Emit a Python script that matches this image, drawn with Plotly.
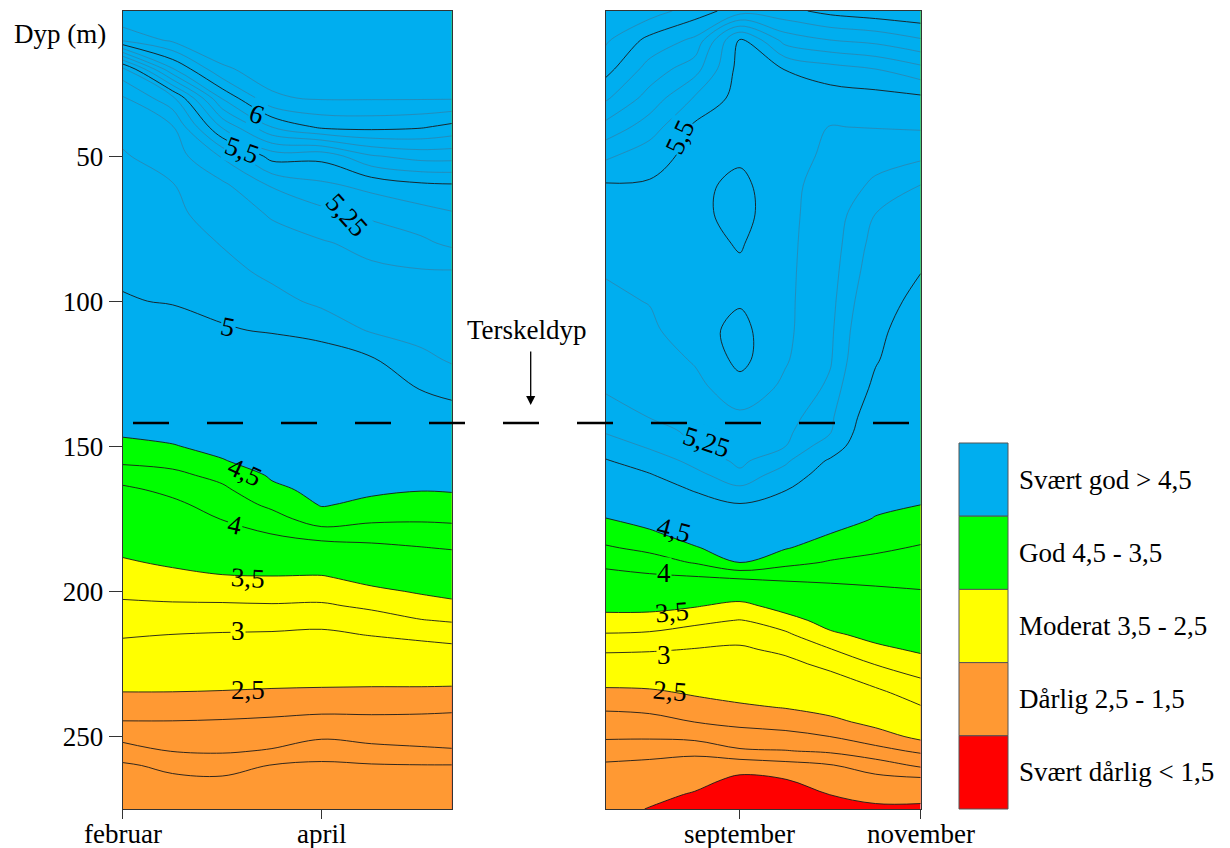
import numpy as np
import plotly.graph_objects as go

# ---------------- data ----------------
depth_m = [0, 10, 20, 30, 40, 50, 60, 70, 80, 90, 100, 110, 120, 130, 140, 145, 150, 155,
           160, 165, 170, 175, 180, 185, 190, 195, 200, 205, 210, 215, 220, 225, 230, 235,
           240, 245, 250, 255, 260, 265, 270, 275]

# time position in months (2 = februar, 4 = april, 9 = september, 11 = november)
left_month = [2.0, 2.5, 3.0, 3.5, 4.0, 4.5, 5.0, 5.31]
right_month = [7.5, 8.0, 8.5, 9.0, 9.5, 10.0, 10.5, 11.0]

# oxygen (ml/l) profiles, one list per time column, top to bottom
o2_left_1 = [6.30, 6.12, 5.37, 5.19, 5.13, 5.09, 5.07, 5.05, 5.03, 5.02, 4.99, 4.87, 4.78, 4.68, 4.58, 4.53, 4.45, 4.30, 4.11, 3.95, 3.85, 3.75, 3.66, 3.56, 3.47, 3.38, 3.30, 3.21, 3.12, 3.03, 2.90, 2.77, 2.63, 2.49, 2.37, 2.24, 2.09, 1.87, 1.72, 1.68, 1.64, 1.60]
o2_left_2 = [6.30, 6.22, 5.89, 5.37, 5.19, 5.15, 5.095, 5.08, 5.05, 5.03, 5.01, 4.93, 4.82, 4.71, 4.61, 4.55, 4.49, 4.33, 4.19, 4.06, 3.95, 3.84, 3.74, 3.64, 3.54, 3.43, 3.33, 3.22, 3.11, 2.995, 2.87, 2.74, 2.62, 2.49, 2.37, 2.24, 2.13, 2.01, 1.80, 1.71, 1.67, 1.62]
o2_left_3 = [6.30, 6.25, 6.19, 5.91, 5.61, 5.31, 5.18, 5.14, 5.105, 5.07, 5.03, 4.99, 4.88, 4.77, 4.66, 4.61, 4.55, 4.49, 4.32, 4.20, 4.10, 4.01, 3.88, 3.74, 3.61, 3.48, 3.35, 3.22, 3.10, 2.98, 2.85, 2.73, 2.60, 2.48, 2.35, 2.23, 2.13, 2.03, 1.83, 1.72, 1.68, 1.63]
o2_left_4 = [6.30, 6.27, 6.23, 6.19, 5.90, 5.54, 5.31, 5.21, 5.16, 5.12, 5.07, 5.01, 4.92, 4.82, 4.72, 4.68, 4.63, 4.58, 4.53, 4.45, 4.31, 4.15, 4.01, 3.83, 3.66, 3.49, 3.36, 3.23, 3.10, 2.97, 2.84, 2.71, 2.59, 2.46, 2.33, 2.21, 2.10, 1.98, 1.74, 1.70, 1.66, 1.62]
o2_left_5 = [6.30, 6.27, 6.24, 6.21, 6.02, 5.53, 5.38, 5.27, 5.19, 5.16, 5.12, 5.04, 4.94, 4.86, 4.77, 4.73, 4.69, 4.65, 4.61, 4.56, 4.52, 4.39, 4.13, 3.88, 3.68, 3.48, 3.35, 3.22, 3.08, 2.95, 2.82, 2.70, 2.58, 2.45, 2.31, 2.18, 2.04, 1.83, 1.72, 1.68, 1.64, 1.60]
o2_left_6 = [6.30, 6.27, 6.24, 6.21, 6.03, 5.69, 5.43, 5.32, 5.23, 5.18, 5.14, 5.11, 4.99, 4.89, 4.79, 4.74, 4.69, 4.64, 4.59, 4.54, 4.45, 4.30, 4.12, 3.94, 3.77, 3.60, 3.44, 3.29, 3.15, 3.01, 2.86, 2.72, 2.58, 2.44, 2.31, 2.19, 2.08, 1.92, 1.73, 1.69, 1.64, 1.60]
o2_left_7 = [6.30, 6.27, 6.24, 6.21, 6.01, 5.74, 5.48, 5.36, 5.28, 5.19, 5.16, 5.13, 5.08, 5.01, 4.87, 4.80, 4.73, 4.66, 4.58, 4.51, 4.40, 4.28, 4.14, 3.99, 3.83, 3.68, 3.53, 3.38, 3.24, 3.07, 2.90, 2.74, 2.58, 2.44, 2.30, 2.19, 2.09, 1.96, 1.74, 1.69, 1.65, 1.60]
o2_left_8 = [6.30, 6.27, 6.24, 6.21, 5.97, 5.74, 5.49, 5.39, 5.32, 5.19, 5.17, 5.14, 5.11, 5.05, 4.93, 4.85, 4.77, 4.68, 4.60, 4.52, 4.41, 4.29, 4.16, 4.02, 3.87, 3.73, 3.58, 3.43, 3.27, 3.11, 2.93, 2.76, 2.58, 2.43, 2.29, 2.18, 2.09, 1.98, 1.74, 1.69, 1.65, 1.60]

o2_right_1 = [6.20, 6.12, 6.04, 5.92, 5.77, 5.62, 5.49, 5.46, 5.43, 5.405, 5.38, 5.35, 5.33, 5.31, 5.25, 5.21, 5.11, 4.98, 4.86, 4.74, 4.62, 4.49, 4.36, 4.22, 4.07, 3.91, 3.74, 3.58, 3.40, 3.23, 3.05, 2.84, 2.62, 2.43, 2.28, 2.16, 2.04, 1.85, 1.72, 1.68, 1.64, 1.58]
o2_right_2 = [6.15, 5.97, 5.86, 5.76, 5.65, 5.54, 5.49, 5.47, 5.45, 5.43, 5.404, 5.38, 5.35, 5.33, 5.302, 5.26, 5.22, 5.12, 4.98, 4.85, 4.73, 4.60, 4.46, 4.31, 4.14, 3.96, 3.77, 3.58, 3.39, 3.21, 3.03, 2.84, 2.63, 2.45, 2.31, 2.17, 2.04, 1.82, 1.70, 1.63, 1.56, 1.49]
o2_right_3 = [6.05, 5.88, 5.74, 5.59, 5.48, 5.47, 5.47, 5.47, 5.46, 5.46, 5.46, 5.46, 5.41, 5.37, 5.33, 5.32, 5.302, 5.24, 5.16, 5.02, 4.88, 4.75, 4.62, 4.48, 4.27, 3.99, 3.76, 3.52, 3.31, 3.14, 2.99, 2.84, 2.68, 2.53, 2.39, 2.252, 2.08, 1.80, 1.66, 1.57, 1.48, 1.42]
o2_right_4 = [5.95, 5.47, 5.46, 5.46, 5.47, 5.48, 5.53, 5.54, 5.51, 5.48, 5.49, 5.53, 5.53, 5.46, 5.38, 5.36, 5.34, 5.32, 5.28, 5.17, 4.99, 4.87, 4.75, 4.63, 4.505, 4.05, 3.69, 3.42, 3.24, 3.10, 2.96, 2.84, 2.71, 2.59, 2.46, 2.31, 2.15, 1.97, 1.59, 1.45, 1.37, 1.30]
o2_right_5 = [5.97, 5.74, 5.502, 5.45, 5.42, 5.42, 5.42, 5.42, 5.42, 5.42, 5.42, 5.42, 5.41, 5.38, 5.34, 5.32, 5.302, 5.23, 5.13, 5.01, 4.89, 4.77, 4.64, 4.52, 4.32, 4.07, 3.83, 3.61, 3.39, 3.20, 3.06, 2.92, 2.78, 2.65, 2.51, 2.35, 2.18, 1.99, 1.66, 1.49, 1.42, 1.35]
o2_right_6 = [6.03, 5.80, 5.56, 5.45, 5.398, 5.39, 5.37, 5.36, 5.35, 5.34, 5.33, 5.32, 5.31, 5.28, 5.23, 5.21, 5.13, 4.97, 4.88, 4.78, 4.69, 4.59, 4.502, 4.37, 4.23, 4.07, 3.91, 3.76, 3.61, 3.45, 3.24, 3.08, 2.92, 2.76, 2.60, 2.43, 2.252, 2.04, 1.73, 1.61, 1.502, 1.44]
o2_right_7 = [6.06, 5.83, 5.60, 5.46, 5.403, 5.34, 5.28, 5.199, 5.16, 5.13, 5.09, 5.05, 5.02, 4.95, 4.85, 4.80, 4.75, 4.70, 4.65, 4.59, 4.54, 4.49, 4.39, 4.29, 4.19, 4.07, 3.96, 3.83, 3.71, 3.58, 3.44, 3.26, 3.10, 2.94, 2.76, 2.58, 2.38, 2.17, 1.87, 1.67, 1.55, 1.47]
o2_right_8 = [6.08, 5.89, 5.67, 5.48, 5.41, 5.32, 5.199, 5.13, 5.07, 5.003, 4.94, 4.88, 4.82, 4.75, 4.69, 4.66, 4.63, 4.60, 4.57, 4.53, 4.503, 4.42, 4.32, 4.23, 4.15, 4.07, 3.99, 3.88, 3.77, 3.65, 3.54, 3.40, 3.247, 3.12, 2.98, 2.78, 2.57, 2.29, 2.04, 1.69, 1.55, 1.47]

# axis ticks
x_tickvals_left = [2, 4]
x_ticktext_left = ["februar", "april"]
x_tickvals_right = [9, 11]
x_ticktext_right = ["september", "november"]
y_tickvals = [50, 100, 150, 200, 250]

# oxygen classes (legend)
class_edges = [1.5, 2.5, 3.5, 4.5]
class_labels = ["Svært god > 4,5", "God 4,5 - 3,5", "Moderat 3,5 - 2,5",
                "Dårlig 2,5 - 1,5", "Svært dårlig < 1,5"]
class_colors = ["#00AEEF", "#00FF00", "#FFFF00", "#FF9933", "#FF0000"]

# contour line levels
dark_levels = [1.5, 1.75, 2.0, 2.25, 2.5, 3.0, 3.25, 3.5, 4.0, 4.25, 4.5, 5.0, 5.5, 6.0]
gray_levels_left = [5.1, 5.2, 5.3, 5.4, 5.6, 5.7, 5.8, 5.9, 6.1, 6.2]
gray_levels_right = [5.2, 5.3, 5.4, 5.6, 5.7, 5.8, 5.9, 6.1]

# contour labels
label_left_text = ["6", "5,5", "5,25", "5", "4,5", "4", "3,5", "3", "2,5"]
label_left_month = [3.347, 3.196, 4.251, 3.061, 3.229, 3.129, 3.262, 3.162, 3.262]
label_left_depth = [35.4, 48.0, 70.4, 108.8, 158.8, 177.1, 195.5, 213.8, 233.9]
label_left_angle = [20, 20, 48, 12, 25, 12, 3, 0, 0]
label_left_bg = ["#00AEEF", "#00AEEF", "#00AEEF", "#00AEEF", None, "#00FF00", None, "#FFFF00", None]

label_right_text = ["5,5", "5,25", "4,5", "4", "3,5", "3", "2,5"]
label_right_month = [8.336, 8.631, 8.267, 8.157, 8.244, 8.157, 8.225]
label_right_depth = [43.4, 148.4, 178.8, 193.7, 207.0, 221.9, 234.5]
label_right_angle = [-65, 18, 15, 0, -5, 0, 5]
label_right_bg = ["#00AEEF", "#00AEEF", None, "#00FF00", None, "#FFFF00", None]

threshold_depth_m = 142

# ---------------- build figure ----------------
W, H = 1230, 848
FONT = "Liberation Serif"

z_left = np.array([o2_left_1, o2_left_2, o2_left_3, o2_left_4,
                   o2_left_5, o2_left_6, o2_left_7, o2_left_8]).T
z_right = np.array([o2_right_1, o2_right_2, o2_right_3, o2_right_4,
                    o2_right_5, o2_right_6, o2_right_7, o2_right_8]).T

red, orange, yellow, green, blue = class_colors[4], class_colors[3], class_colors[2], class_colors[1], class_colors[0]
cscale = [[0, red], [0.125, red], [0.125, orange], [0.375, orange],
          [0.375, yellow], [0.625, yellow], [0.625, green], [0.875, green],
          [0.875, blue], [1, blue]]

fig = go.Figure()


def add_panel(xv, z, xa, ya, gray_levels):
    fig.add_trace(go.Contour(
        x=xv, y=depth_m, z=z, xaxis=xa, yaxis=ya, zmin=1, zmax=5,
        autocontour=False,
        contours=dict(start=class_edges[0], end=class_edges[-1], size=1,
                      coloring="fill", showlines=False),
        colorscale=cscale, showscale=False,
        line=dict(width=0, smoothing=1), hoverinfo="skip"))
    for lv in gray_levels:
        fig.add_trace(go.Contour(
            x=xv, y=depth_m, z=z, xaxis=xa, yaxis=ya, autocontour=False,
            contours=dict(start=lv, end=lv, size=1, coloring="none"),
            line=dict(color="rgba(85,95,115,0.42)", width=1, smoothing=1),
            showscale=False, hoverinfo="skip"))
    for lv in dark_levels:
        fig.add_trace(go.Contour(
            x=xv, y=depth_m, z=z, xaxis=xa, yaxis=ya, autocontour=False,
            contours=dict(start=lv, end=lv, size=1, coloring="none"),
            line=dict(color="#1a1a1a", width=0.9, smoothing=1),
            showscale=False, hoverinfo="skip"))


add_panel(left_month, z_left, "x", "y", gray_levels_left)
add_panel(right_month, z_right, "x2", "y2", gray_levels_right)

ydom = [1 - 809 / H, 1 - 11 / H]
axis_common = dict(showgrid=False, zeroline=False, showline=True, linecolor="#333",
                   linewidth=1, mirror=True, tickcolor="#333", automargin=False,
                   tickfont=dict(family=FONT, size=27, color="black"))

fig.update_layout(
    width=W, height=H, margin=dict(l=0, r=0, t=0, b=0, pad=0), autosize=False,
    paper_bgcolor="white", plot_bgcolor="white", showlegend=False,
    font=dict(family=FONT, size=27, color="black"),
    xaxis=dict(domain=[122.7 / W, 451.7 / W], range=[2, 5.3065],
               tickvals=x_tickvals_left, showticklabels=False,
               ticks="outside", ticklen=9, anchor="y", **axis_common),
    yaxis=dict(domain=ydom, range=[275, 0], tickvals=y_tickvals,
               ticks="outside", ticklen=13, anchor="x", **axis_common),
    xaxis2=dict(domain=[606 / W, 920.7 / W], range=[7.517, 11],
                tickvals=x_tickvals_right, showticklabels=False,
                ticks="outside", ticklen=9, anchor="y2", **axis_common),
    yaxis2=dict(domain=ydom, range=[275, 0], showticklabels=False, ticks="",
                anchor="x2", **axis_common),
)

annotations = []
# x tick labels (placed just under the axis, as in the reference)
for xa, vals, texts in (("x", x_tickvals_left, x_ticktext_left),
                        ("x2", x_tickvals_right, x_ticktext_right)):
    for v, t in zip(vals, texts):
        annotations.append(dict(x=v, y=1 - 834 / H, xref=xa, yref="paper",
                                xanchor="center", yanchor="middle", text=t,
                                showarrow=False,
                                font=dict(family=FONT, size=27, color="black")))

# contour labels
for t, xm, d, a, bg in zip(label_left_text, label_left_month, label_left_depth,
                           label_left_angle, label_left_bg):
    annotations.append(dict(x=xm, y=d, xref="x", yref="y", text=t, showarrow=False,
                            textangle=a, bgcolor=bg, borderpad=0,
                            font=dict(family=FONT, size=27, color="black")))
for t, xm, d, a, bg in zip(label_right_text, label_right_month, label_right_depth,
                           label_right_angle, label_right_bg):
    annotations.append(dict(x=xm, y=d, xref="x2", yref="y2", text=t, showarrow=False,
                            textangle=a, bgcolor=bg, borderpad=0,
                            font=dict(family=FONT, size=27, color="black")))

# axis title
annotations.append(dict(x=12 / W, y=1 - 34 / H, xref="paper", yref="paper",
                        xanchor="left", yanchor="middle", text="Dyp (m)", showarrow=False,
                        font=dict(family=FONT, size=27, color="black")))

# threshold label and arrow
annotations.append(dict(x=527 / W, y=1 - 330 / H, xref="paper", yref="paper",
                        xanchor="center", yanchor="middle", text="Terskeldyp",
                        showarrow=False, font=dict(family=FONT, size=27, color="black")))
annotations.append(dict(x=530.7 / W, y=1 - 405 / H, xref="paper", yref="paper",
                        text="", showarrow=True, ax=0, ay=-55, arrowhead=2,
                        arrowsize=1.4, arrowwidth=1.3, arrowcolor="black", standoff=0))

shapes = [dict(type="line", xref="paper", yref="y", x0=133 / W, x1=909 / W,
               y0=threshold_depth_m, y1=threshold_depth_m, layer="above",
               line=dict(color="black", width=2.5, dash="36px,38px"))]

# legend boxes
box_top, box_h = 443, 73.2
for i, (lab, col) in enumerate(zip(class_labels, class_colors)):
    yt = box_top + i * box_h
    yb = yt + box_h
    shapes.append(dict(type="rect", xref="paper", yref="paper",
                       x0=959 / W, x1=1008 / W, y0=1 - yb / H, y1=1 - yt / H,
                       fillcolor=col, line=dict(color="#555", width=1)))
    annotations.append(dict(x=1017 / W, y=1 - (yt + box_h / 2) / H, xref="paper",
                            yref="paper", xanchor="left", yanchor="middle", text=lab,
                            showarrow=False, font=dict(family=FONT, size=27, color="black")))

fig.update_layout(annotations=annotations, shapes=shapes)
fig.write_html("out.html")
